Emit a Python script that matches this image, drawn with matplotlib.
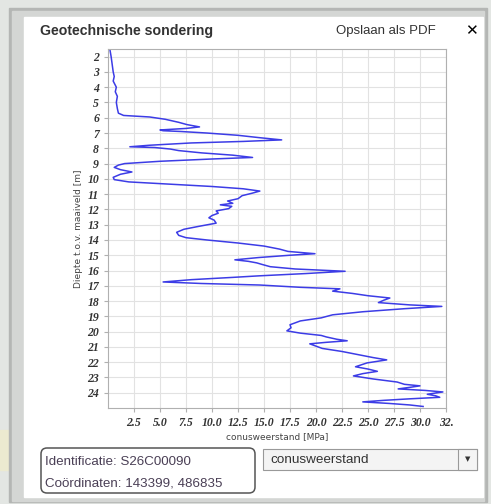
import matplotlib.pyplot as plt
from matplotlib.patches import Rectangle, FancyBboxPatch

# sondering: diepte [m] en conusweerstand [MPa]
diepte = [1.6, 2.0, 2.5, 3.0, 3.3, 3.6, 4.0, 4.3, 4.6, 5.0, 5.4, 5.7, 5.85, 5.95,
          6.1, 6.3, 6.45, 6.6, 6.7, 6.8, 6.85, 6.9, 7.0, 7.15, 7.3, 7.45, 7.55,
          7.65, 7.8, 7.9, 7.95, 8.05, 8.15, 8.3, 8.45, 8.6, 8.7, 8.85, 9.0, 9.1,
          9.25, 9.4, 9.55, 9.7, 9.9, 10.05, 10.2, 10.35, 10.5, 10.65, 10.8, 10.95,
          11.1, 11.3, 11.45, 11.6, 11.7, 11.8, 11.95, 12.1, 12.25, 12.4, 12.55,
          12.7, 12.9, 13.1, 13.3, 13.5, 13.7, 13.85, 14.0, 14.2, 14.4, 14.6, 14.75,
          14.9, 15.0, 15.15, 15.3, 15.4, 15.5, 15.6, 15.75, 15.9, 16.05, 16.2,
          16.35, 16.45, 16.6, 16.75, 16.85, 16.95, 17.1, 17.2, 17.35, 17.5, 17.65,
          17.8, 17.95, 18.1, 18.25, 18.35, 18.5, 18.7, 18.9, 19.1, 19.3, 19.55,
          19.75, 19.95, 20.1, 20.25, 20.35, 20.5, 20.6, 20.7, 20.8, 20.95, 21.1,
          21.3, 21.5, 21.7, 21.85, 22.05, 22.3, 22.45, 22.6, 22.75, 22.9, 23.1,
          23.3, 23.45, 23.55, 23.65, 23.75, 23.85, 23.95, 24.1, 24.2, 24.3, 24.4,
          24.5, 24.6, 24.7, 24.8, 24.9]
qc = [0.2, 0.3, 0.4, 0.5, 0.6, 0.5, 0.8, 0.7, 0.9, 0.8, 0.9, 1.0, 1.5, 4.0,
      5.5, 6.8, 7.6, 8.8, 7.5, 5.0, 5.3, 7.0, 9.5, 12.5, 14.5, 16.7, 13.0,
      8.0, 4.0, 2.1, 4.5, 6.0, 6.8, 9.0, 12.0, 13.9, 10.0, 5.0, 1.6, 1.0,
      0.6, 1.2, 2.3, 1.2, 0.5, 0.6, 2.0, 6.0, 10.0, 13.0, 14.6, 13.8,
      12.9, 12.5, 11.5, 12.0, 10.8, 11.9, 11.6, 10.4, 10.6, 10.0, 9.7,
      10.2, 10.4, 8.8, 7.3, 6.6, 6.8, 7.5, 9.5, 12.5, 15.0, 16.5, 17.3,
      19.9, 17.5, 14.5, 12.2, 13.5, 14.3, 14.8, 15.6, 18.0, 22.8, 19.0,
      14.5, 12.0, 8.0, 5.3, 9.0, 14.6, 18.5, 22.3, 21.6, 23.5, 25.0,
      27.1, 26.5, 26.0, 29.0, 32.1, 28.5, 24.5, 21.6, 20.5, 18.5, 17.5,
      17.6, 17.2, 18.5, 20.5, 21.0, 22.0, 23.0, 21.0, 19.4, 20.0, 20.6,
      22.5, 24.0, 25.5, 26.8, 24.9, 23.8, 25.0, 25.9, 24.5, 23.6, 25.5,
      27.8, 28.5, 30.0, 29.0, 27.9, 30.5, 32.2, 30.7, 31.5, 31.9, 29.0,
      26.5, 24.5, 27.0, 29.0, 30.3]

x_ticks = [2.5, 5.0, 7.5, 10.0, 12.5, 15.0, 17.5, 20.0, 22.5, 25.0, 27.5, 30.0, 32.5]
x_labels = ['2.5', '5.0', '7.5', '10.0', '12.5', '15.0', '17.5', '20.0', '22.5',
            '25.0', '27.5', '30.0', '32.']
y_ticks = list(range(2, 25))

W, H = 491, 504
fig = plt.figure(figsize=(W / 100, H / 100), dpi=100)

# achtergrond (kaart + venster)
bg = fig.add_axes([0, 0, 1, 1])
bg.set_xlim(0, W)
bg.set_ylim(H, 0)
bg.axis('off')
bg.add_patch(Rectangle((0, 0), W, H, color='#e3e6e3'))
bg.add_patch(Rectangle((0, 430), 9, 40, color='#ecead0'))
bg.add_patch(Rectangle((9, 8), 478, 494, color='#b4b6b4'))
bg.add_patch(Rectangle((12, 11), 472, 490, color='#d4d6d4'))
bg.add_patch(Rectangle((24, 17), 459, 480, color='white'))

bg.text(40, 31, 'Geotechnische sondering', fontsize=10.2, fontweight='bold',
        family='Liberation Sans', color='#333333', va='center')
bg.text(436, 31, 'Opslaan als PDF', fontsize=9.5, family='Liberation Sans',
        color='#333333', va='center', ha='right')
bg.text(471, 31, '✕', fontsize=11, fontweight='bold', color='black',
        va='center', ha='center')

# infoblok
bg.add_patch(FancyBboxPatch((41, 448), 214, 45, boxstyle='round,pad=0,rounding_size=6',
                            fc='white', ec='#555555', lw=1.1))
bg.text(45, 462, 'Identificatie: S26C00090', fontsize=9.6, family='Liberation Sans',
        color='#4a3f55', va='center')
bg.text(45, 484, 'Coördinaten: 143399, 486835', fontsize=9.6, family='Liberation Sans',
        color='#4a3f55', va='center')

# keuzelijst
bg.add_patch(Rectangle((263, 449), 214, 21, fc='#f4f4f4', ec='#999999', lw=0.8))
bg.add_patch(Rectangle((458, 449), 19, 21, fc='#f4f4f4', ec='#999999', lw=0.8))
bg.text(270, 460, 'conusweerstand', fontsize=9.7, family='Liberation Sans',
        color='#333333', va='center')
bg.text(467.5, 459, '▼', fontsize=5, color='#333333', va='center', ha='center')

# grafiek
ax = fig.add_axes([108 / W, 1 - 408 / H, 338 / W, 359 / H])
ax.plot(qc, diepte, color='#3c3ce6', lw=1.1)
ax.set_xlim(0, 32.5)
ax.set_ylim(25, 1.5)
ax.set_xticks(x_ticks)
ax.set_xticklabels(x_labels)
ax.set_yticks(y_ticks)
ax.grid(True, color='#e2e2e2', lw=0.8)
for s in ax.spines.values():
    s.set_color('#b0b0b0')
ax.tick_params(colors='#b0b0b0', length=3, labelcolor='#333333')
for lab in ax.get_xticklabels() + ax.get_yticklabels():
    lab.set_family('Liberation Serif')
    lab.set_fontweight('bold')
    lab.set_fontstyle('italic')
    lab.set_fontsize(8.5)
ax.set_xlabel('conusweerstand [MPa]', fontsize=6.5, color='#444444', labelpad=2)
ax.set_ylabel('Diepte t.o.v. maaiveld [m]', fontsize=6.5, color='#444444', labelpad=3)

fig.savefig('out.png', dpi=100)
